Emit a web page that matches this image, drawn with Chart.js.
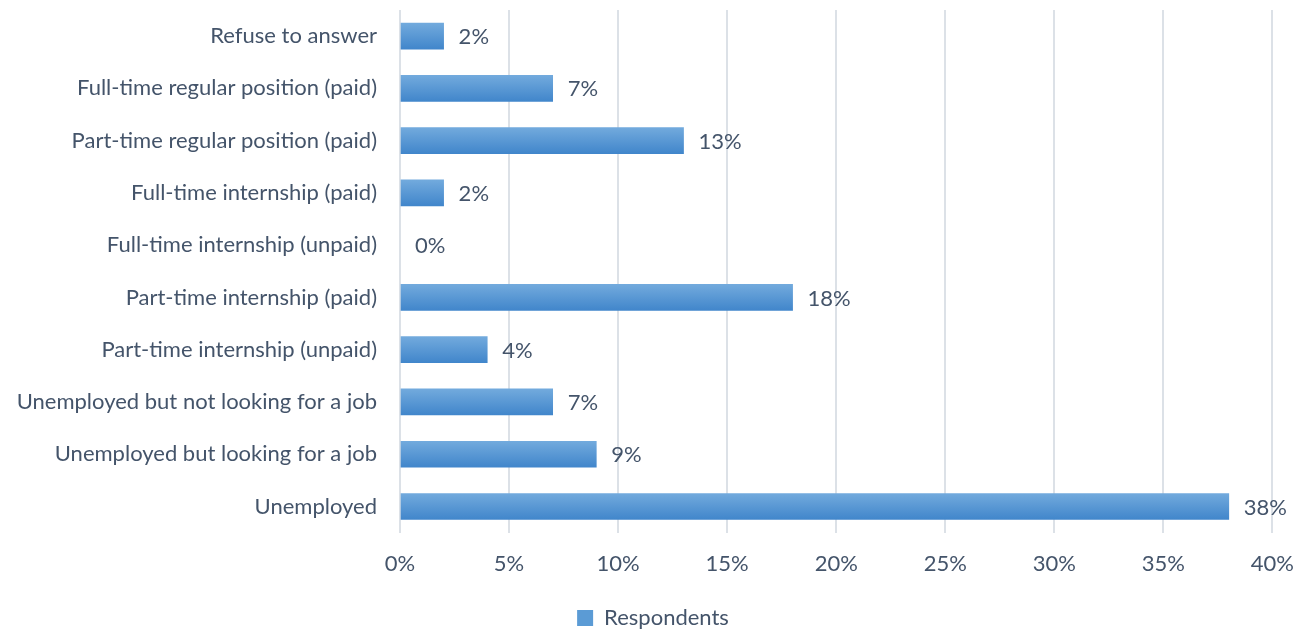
<!DOCTYPE html>
<html>
<head>
<meta charset="utf-8">
<script src="https://cdn.jsdelivr.net/npm/chart.js@4"></script>
<style>
  html, body { margin: 0; padding: 0; background: #fff; }
  #wrap { width: 1312px; height: 633px; }
</style>
</head>
<body>
<div id="wrap"><canvas id="myChart"></canvas></div>
<script>
const categorias = [
    'Refuse to answer',
    'Full-time regular position (paid)',
    'Part-time regular position (paid)',
    'Full-time internship (paid)',
    'Full-time internship (unpaid)',
    'Part-time internship (paid)',
    'Part-time internship (unpaid)',
    'Unemployed but not looking for a job',
    'Unemployed but looking for a job',
    'Unemployed'
];
const respondentes = [2, 7, 13, 2, 0, 18, 4, 7, 9, 38];
const ticksX = [0, 5, 10, 15, 20, 25, 30, 35, 40];

const corTexto = '#44546A';
const fonte = 'Lato';
const tamanho = 22;

// gradiente vertical de cada barra, do topo ao fundo
function gradienteBarra(ctx) {
    const chart = ctx.chart;
    const y = chart.scales.y;
    if (!y || ctx.dataIndex === undefined) return '#5B9BD5';
    if (respondentes[ctx.dataIndex] === 0) return 'rgba(0,0,0,0)';
    const centro = y.getPixelForValue(ctx.dataIndex);
    const g = chart.ctx.createLinearGradient(0, centro - 13, 0, centro + 13);
    g.addColorStop(0, '#72AADD');
    g.addColorStop(1, '#4186CB');
    return g;
}

// escreve o valor ao lado de cada barra
const rotulos = {
    id: 'rotulos',
    afterDatasetsDraw(chart) {
        const c = chart.ctx;
        const meta = chart.getDatasetMeta(0);
        c.save();
        c.font = tamanho + 'px ' + fonte;
        c.fillStyle = corTexto;
        c.textAlign = 'left';
        c.textBaseline = 'middle';
        meta.data.forEach((barra, i) => {
            c.fillText(respondentes[i] + '%', barra.x + 15, barra.y + 1);
        });
        c.restore();
    }
};

const grafico = document.getElementById('myChart');

const data = {
    labels: categorias,
    datasets: [{
        label: 'Respondents',
        data: respondentes,
        backgroundColor: gradienteBarra,
        borderWidth: 0,
        barThickness: 26
    }]
};

const config = {
    type: 'bar',
    data: data,
    plugins: [rotulos],
    options: {
        indexAxis: 'y',
        responsive: true,
        maintainAspectRatio: false,
        animation: false,
        layout: {
            padding: { top: 10, right: 18, left: 12, bottom: -6 }
        },
        scales: {
            x: {
                min: 0,
                max: 40,
                afterBuildTicks(axis) {
                    axis.ticks = ticksX.map(v => ({ value: v }));
                },
                afterFit(axis) {
                    axis.height += 9;
                },
                grid: {
                    color: '#DCE1E7',
                    lineWidth: 2,
                    drawTicks: false
                },
                border: { display: false },
                ticks: {
                    padding: 18,
                    color: corTexto,
                    font: { family: fonte, size: tamanho },
                    callback: v => v + '%'
                }
            },
            y: {
                afterFit(axis) {
                    axis.width = 388;
                    axis.paddingTop = 0;
                    axis.paddingBottom = 0;
                },
                grid: { display: false },
                border: { display: false },
                ticks: {
                    padding: 15,
                    color: corTexto,
                    font: { family: fonte, size: tamanho }
                }
            }
        },
        plugins: {
            legend: {
                position: 'bottom',
                labels: {
                    color: corTexto,
                    font: { family: fonte, size: tamanho },
                    boxWidth: 16,
                    boxHeight: 16,
                    padding: 3,
                    generateLabels() {
                        return [{
                            text: 'Respondents',
                            fillStyle: '#5B9BD5',
                            strokeStyle: '#5B9BD5',
                            lineWidth: 0,
                            fontColor: corTexto,
                            datasetIndex: 0
                        }];
                    }
                }
            },
            tooltip: { enabled: false }
        }
    }
};

new Chart(grafico, config);
</script>
</body>
</html>
